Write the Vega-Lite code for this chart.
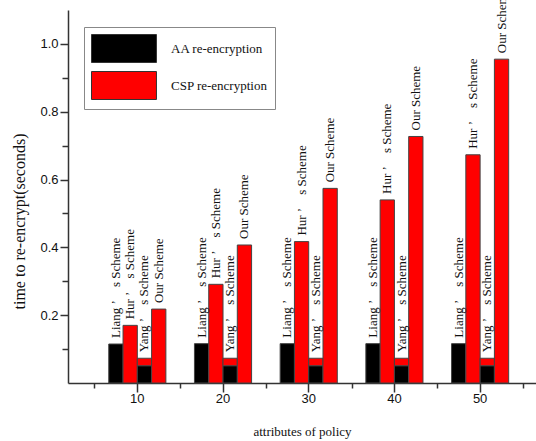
{
  "$schema": "https://vega.github.io/schema/vega-lite/v6.json",
  "width": 468,
  "height": 373,
  "autosize": {"type": "none"},
  "padding": {"left": 68, "top": 10, "right": 0, "bottom": 58},
  "background": "white",
  "config": {"view": {"stroke": null}},
  "data": {
    "values": [
      {"attr": 10, "scheme": "Liang ’\u2003s Scheme", "type": "AA re-encryption", "value": 0.115},
      {"attr": 10, "scheme": "Hur ’\u2003s Scheme", "type": "CSP re-encryption", "value": 0.170},
      {"attr": 10, "scheme": "Yang ’\u2003s Scheme", "type": "AA re-encryption", "value": 0.051},
      {"attr": 10, "scheme": "Yang ’\u2003s Scheme", "type": "CSP re-encryption", "value": 0.022},
      {"attr": 10, "scheme": "Our Scheme", "type": "CSP re-encryption", "value": 0.218},
      {"attr": 20, "scheme": "Liang ’\u2003s Scheme", "type": "AA re-encryption", "value": 0.116},
      {"attr": 20, "scheme": "Hur ’\u2003s Scheme", "type": "CSP re-encryption", "value": 0.291},
      {"attr": 20, "scheme": "Yang ’\u2003s Scheme", "type": "AA re-encryption", "value": 0.051},
      {"attr": 20, "scheme": "Yang ’\u2003s Scheme", "type": "CSP re-encryption", "value": 0.022},
      {"attr": 20, "scheme": "Our Scheme", "type": "CSP re-encryption", "value": 0.407},
      {"attr": 30, "scheme": "Liang ’\u2003s Scheme", "type": "AA re-encryption", "value": 0.116},
      {"attr": 30, "scheme": "Hur ’\u2003s Scheme", "type": "CSP re-encryption", "value": 0.417},
      {"attr": 30, "scheme": "Yang ’\u2003s Scheme", "type": "AA re-encryption", "value": 0.051},
      {"attr": 30, "scheme": "Yang ’\u2003s Scheme", "type": "CSP re-encryption", "value": 0.022},
      {"attr": 30, "scheme": "Our Scheme", "type": "CSP re-encryption", "value": 0.574},
      {"attr": 40, "scheme": "Liang ’\u2003s Scheme", "type": "AA re-encryption", "value": 0.116},
      {"attr": 40, "scheme": "Hur ’\u2003s Scheme", "type": "CSP re-encryption", "value": 0.540},
      {"attr": 40, "scheme": "Yang ’\u2003s Scheme", "type": "AA re-encryption", "value": 0.051},
      {"attr": 40, "scheme": "Yang ’\u2003s Scheme", "type": "CSP re-encryption", "value": 0.022},
      {"attr": 40, "scheme": "Our Scheme", "type": "CSP re-encryption", "value": 0.727},
      {"attr": 50, "scheme": "Liang ’\u2003s Scheme", "type": "AA re-encryption", "value": 0.116},
      {"attr": 50, "scheme": "Hur ’\u2003s Scheme", "type": "CSP re-encryption", "value": 0.673},
      {"attr": 50, "scheme": "Yang ’\u2003s Scheme", "type": "AA re-encryption", "value": 0.051},
      {"attr": 50, "scheme": "Yang ’\u2003s Scheme", "type": "CSP re-encryption", "value": 0.022},
      {"attr": 50, "scheme": "Our Scheme", "type": "CSP re-encryption", "value": 0.955}
    ]
  },
  "layer": [
    {
      "layer": [
        {
          "transform": [
            {"stack": "value", "groupby": ["attr", "scheme"], "sort": [{"field": "type", "order": "ascending"}], "as": ["y0", "y1"]}
          ],
          "mark": {"type": "bar", "stroke": "#444", "strokeWidth": 1},
          "encoding": {
            "x": {
              "field": "attr", "type": "ordinal",
              "scale": {"paddingInner": 0, "paddingOuter": 0.2305, "align": 0.67},
              "axis": {
                "orient": "bottom",
                "labelAngle": 0,
                "tickSize": 9,
                "grid": false,
                "title": "attributes of policy",
                "titleFont": "Liberation Serif", "titleFontSize": 13, "titleFontWeight": "normal", "titleColor": "#111",
                "titlePadding": 20,
                "labelFont": "Liberation Sans", "labelFontSize": 13, "labelColor": "#111", "labelPadding": 0,
                "domainColor": "#333", "domainWidth": 1.5, "tickColor": "#333", "tickWidth": 1.5
              }
            },
            "xOffset": {
              "field": "scheme", "type": "nominal",
              "sort": ["Liang ’\u2003s Scheme", "Hur ’\u2003s Scheme", "Yang ’\u2003s Scheme", "Our Scheme"],
              "scale": {"paddingInner": 0, "paddingOuter": 1.06}
            },
            "y": {
              "field": "y0", "type": "quantitative",
              "scale": {"domain": [0, 1.1], "nice": false},
              "axis": {
                "values": [0.1, 0.2, 0.3, 0.4, 0.5, 0.6, 0.7, 0.8, 0.9, 1.0],
                "labelExpr": "round(datum.value*10) % 2 == 0 ? format(datum.value, '.1f') : ''",
                "tickSize": {"condition": {"test": "round(datum.value*10) % 2 == 0", "value": 8}, "value": 6},
                "grid": false,
                "title": "time to re-encrypt(seconds)",
                "titleFont": "Liberation Serif", "titleFontSize": 16, "titleFontWeight": "normal", "titleColor": "#111",
                "titleX": -49, "titleY": 211, "titleAlign": "center", "titleBaseline": "middle", "titleAngle": 270,
                "labelFont": "Liberation Sans", "labelFontSize": 13, "labelColor": "#111", "labelPadding": 2,
                "domainColor": "#333", "domainWidth": 1.5, "tickColor": "#333", "tickWidth": 1.5
              }
            },
            "y2": {"field": "y1"},
            "color": {
              "field": "type", "type": "nominal",
              "scale": {"domain": ["AA re-encryption", "CSP re-encryption"], "range": ["#000000", "#ff0000"]},
              "legend": {
                "orient": "none", "legendX": 16, "legendY": 17, "title": null,
                "symbolType": "M-1,-1H3.64V1H-1Z", "symbolSize": 784,
                "symbolStrokeColor": "#333", "symbolStrokeWidth": 1, "symbolOpacity": 1,
                "labelFont": "Liberation Serif", "labelFontSize": 13, "labelColor": "#111", "labelOffset": 51,
                "rowPadding": 4, "padding": 7, "strokeColor": "#888", "fillColor": "white"
              }
            }
          }
        },
        {
          "transform": [
            {"aggregate": [{"op": "sum", "field": "value", "as": "total"}], "groupby": ["attr", "scheme"]}
          ],
          "mark": {"type": "text", "angle": 270, "align": "left", "baseline": "middle", "dx": 6, "dy": 0, "font": "Liberation Serif", "fontSize": 13, "color": "#111"},
          "encoding": {
            "x": {"field": "attr", "type": "ordinal"},
            "xOffset": {
              "field": "scheme", "type": "nominal",
              "sort": ["Liang ’\u2003s Scheme", "Hur ’\u2003s Scheme", "Yang ’\u2003s Scheme", "Our Scheme"]
            },
            "y": {"field": "total", "type": "quantitative"},
            "text": {"field": "scheme"}
          }
        }
      ]
    },
    {
      "mark": {"type": "rule", "opacity": 0},
      "encoding": {
        "x": {
          "field": "attr", "type": "quantitative",
          "scale": {"domain": [1.91, 56.52], "nice": false, "zero": false},
          "axis": {
            "orient": "bottom",
            "values": [5, 15, 25, 35, 45, 55],
            "labels": false, "domain": false, "grid": false, "title": null,
            "tickSize": 5, "tickColor": "#333", "tickWidth": 1.5
          }
        }
      }
    }
  ],
  "resolve": {"scale": {"x": "independent"}, "axis": {"x": "independent"}}
}
